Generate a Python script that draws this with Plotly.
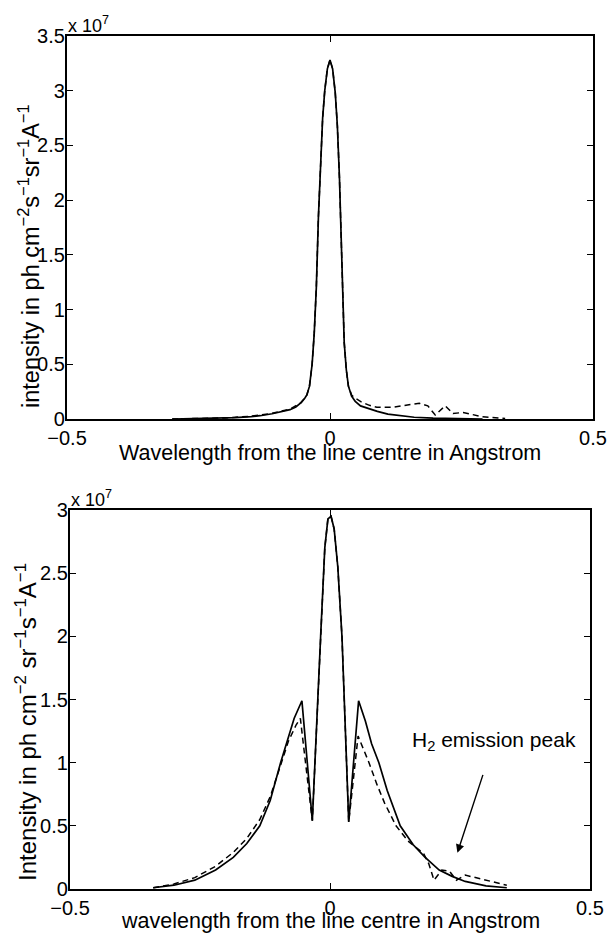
import plotly.graph_objects as go

# ---------------- data (intensity in units of 1e7) ----------------
top_solid_x = [-0.30, -0.25, -0.215, -0.18, -0.15, -0.133, -0.11, -0.09, -0.076, -0.065,
               -0.055, -0.048, -0.044, -0.039, -0.034, -0.030, -0.026, -0.022, -0.018,
               -0.014, -0.010, -0.005, 0.0, 0.005, 0.010, 0.014, 0.018, 0.021, 0.024,
               0.027, 0.031, 0.035, 0.041, 0.048, 0.058, 0.070, 0.090, 0.110, 0.133,
               0.160, 0.196, 0.240, 0.290]
top_solid_y = [0.0, 0.003, 0.006, 0.012, 0.022, 0.030, 0.048, 0.068, 0.085, 0.11,
               0.15, 0.19, 0.22, 0.30, 0.50, 0.78, 1.20, 1.85, 2.35,
               2.75, 3.00, 3.20, 3.28, 3.20, 2.98, 2.68, 2.20, 1.64, 1.05,
               0.70, 0.45, 0.30, 0.21, 0.16, 0.12, 0.10, 0.07, 0.045, 0.030,
               0.016, 0.008, 0.003, 0.0]

top_dash_x = [-0.30, -0.25, -0.20, -0.15, -0.11, -0.076, -0.055, -0.048, -0.044, -0.039,
              -0.034, -0.030, -0.026, -0.022, -0.018, -0.014, -0.010, -0.005, 0.0, 0.005,
              0.010, 0.014, 0.018, 0.021, 0.024, 0.027, 0.031, 0.035, 0.041, 0.045,
              0.060, 0.075, 0.089, 0.120, 0.150, 0.170, 0.186, 0.200, 0.219, 0.234,
              0.253, 0.290, 0.333]
top_dash_y = [0.0, 0.004, 0.010, 0.025, 0.052, 0.090, 0.15, 0.19, 0.22, 0.30,
              0.50, 0.78, 1.20, 1.85, 2.35, 2.75, 3.00, 3.20, 3.28, 3.20,
              2.98, 2.68, 2.20, 1.64, 1.05, 0.70, 0.45, 0.30, 0.22, 0.20,
              0.155, 0.125, 0.107, 0.107, 0.13, 0.143, 0.12, 0.037, 0.12, 0.05,
              0.06, 0.02, 0.005]

bot_solid_x = [-0.34, -0.30, -0.26, -0.245, -0.22, -0.186, -0.16, -0.135, -0.115, -0.095,
               -0.08, -0.069, -0.054, -0.034, -0.018, -0.010, -0.004, 0.002, 0.008, 0.015,
               0.023, 0.036, 0.055, 0.068, 0.080, 0.094, 0.110, 0.135, 0.160, 0.183,
               0.210, 0.235, 0.260, 0.300, 0.340]
bot_solid_y = [0.01, 0.03, 0.07, 0.10, 0.15, 0.25, 0.36, 0.50, 0.70, 1.00,
               1.20, 1.35, 1.49, 0.54, 2.00, 2.70, 2.93, 2.95, 2.85, 2.55,
               2.00, 0.53, 1.49, 1.33, 1.15, 1.00, 0.78, 0.50, 0.35, 0.25,
               0.15, 0.10, 0.06, 0.025, 0.01]

bot_dash_x = [-0.34, -0.30, -0.26, -0.22, -0.186, -0.16, -0.135, -0.115, -0.095, -0.08,
              -0.065, -0.057, -0.034, -0.018, -0.010, -0.004, 0.002, 0.008, 0.015, 0.023,
              0.036, 0.054, 0.065, 0.075, 0.090, 0.105, 0.127, 0.150, 0.165, 0.180,
              0.190, 0.200, 0.215, 0.230, 0.243, 0.260, 0.290, 0.340]
bot_dash_y = [0.01, 0.04, 0.09, 0.18, 0.29, 0.40, 0.55, 0.73, 0.98, 1.17,
              1.30, 1.35, 0.54, 2.00, 2.70, 2.93, 2.95, 2.85, 2.55, 2.00,
              0.53, 1.21, 1.10, 1.00, 0.83, 0.68, 0.50, 0.38, 0.33, 0.28,
              0.20, 0.07, 0.15, 0.14, 0.07, 0.11, 0.08, 0.03]

x_ticks = [-0.5, 0, 0.5]
top_y_ticks = [0, 0.5, 1, 1.5, 2, 2.5, 3, 3.5]
bot_y_ticks = [0, 0.5, 1, 1.5, 2, 2.5, 3]

FONT = "Liberation Sans, Arial, Helvetica, sans-serif"
FS = 20
W, H = 608, 936

fig = go.Figure()
line_s = dict(color="black", width=1.7)
line_d = dict(color="black", width=1.5, dash="6px,4px")
fig.add_trace(go.Scatter(x=top_solid_x, y=top_solid_y, mode="lines", line=line_s, xaxis="x", yaxis="y"))
fig.add_trace(go.Scatter(x=top_dash_x, y=top_dash_y, mode="lines", line=line_d, xaxis="x", yaxis="y"))
fig.add_trace(go.Scatter(x=bot_solid_x, y=bot_solid_y, mode="lines", line=line_s, xaxis="x2", yaxis="y2"))
fig.add_trace(go.Scatter(x=bot_dash_x, y=bot_dash_y, mode="lines", line=line_d, xaxis="x2", yaxis="y2"))

def ax(**kw):
    d = dict(showline=True, linecolor="black", linewidth=2.2, mirror="ticks",
             ticks="inside", ticklen=6, tickwidth=1, tickcolor="black",
             showgrid=False, zeroline=False, automargin=False,
             tickfont=dict(family=FONT, size=FS, color="black"))
    d.update(kw)
    return d

# pixel boxes
t_l, t_r, t_t, t_b = 67, 593, 36, 419
b_l, b_r, b_t, b_b = 70, 590, 510, 889

fig.update_layout(
    template="none",
    width=W, height=H, margin=dict(l=0, r=0, t=0, b=0, pad=0),
    paper_bgcolor="white", plot_bgcolor="white", showlegend=False,
    xaxis=ax(domain=[t_l / W, t_r / W], range=[-0.5, 0.5], tickvals=x_ticks, anchor="y"),
    yaxis=ax(domain=[1 - t_b / H, 1 - t_t / H], range=[0, 3.5], tickvals=top_y_ticks, anchor="x",
             ticklabelstandoff=-4),
    xaxis2=ax(domain=[b_l / W, b_r / W], range=[-0.5, 0.5], tickvals=x_ticks, anchor="y2"),
    yaxis2=ax(domain=[1 - b_b / H, 1 - b_t / H], range=[0, 3.0], tickvals=bot_y_ticks, anchor="x2",
              ticklabelstandoff=-4),
)

def pann(text, px, py, size=FS, **kw):
    d = dict(text=text, x=px / W, y=1 - py / H, xref="paper", yref="paper",
             xanchor="center", yanchor="middle",
             showarrow=False, font=dict(family=FONT, size=size, color="black"))
    d.update(kw)
    fig.add_annotation(**d)

pann("x 10<sup>7</sup>", t_l - 1, t_t + 2, size=18, xanchor="left", yanchor="bottom")
pann("x 10<sup>7</sup>", b_l - 1, b_t + 2, size=18, xanchor="left", yanchor="bottom")
pann("Wavelength from the line centre in Angstrom", (t_l + t_r) / 2, 453, size=21.5)
pann("wavelength from the line centre in Angstrom", (b_l + b_r) / 2, 921, size=21.5)
pann("intensity in ph cm<sup>\u22122</sup>s<sup>\u22121</sup>sr<sup>\u22121</sup>A<sup>\u22121</sup>",
     29, 256, size=23.5, textangle=-90)
pann("Intensity in ph cm<sup>\u22122</sup> sr<sup>\u22121</sup>s<sup>\u22121</sup>A<sup>\u22121</sup>",
     26, 722, size=24, textangle=-90)

fig.add_annotation(text="H<sub>2</sub> emission peak", x=0.154, y=1.05, xref="x2", yref="y2",
                   xanchor="left", yanchor="bottom", showarrow=False,
                   font=dict(family=FONT, size=21, color="black"))
fig.add_annotation(text="", x=0.245, y=0.286, xref="x2", yref="y2",
                   ax=0.295, ay=0.915, axref="x2", ayref="y2",
                   showarrow=True, arrowhead=2, arrowsize=1.2, arrowwidth=1.4, arrowcolor="black")

fig.write_html("out.html", config={"displayModeBar": False},
               post_script="document.body.style.margin='0';document.body.style.overflow='hidden';")
